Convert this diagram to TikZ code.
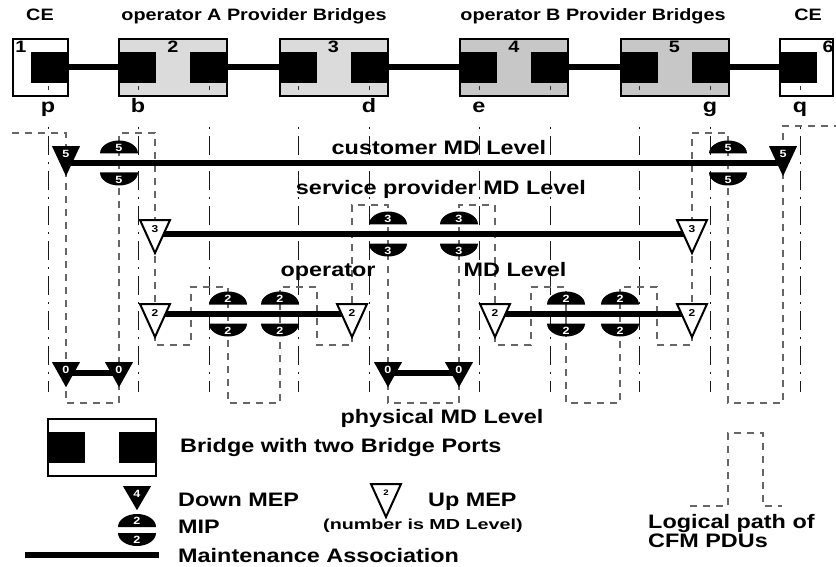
\documentclass[tikz,border=0pt]{standalone}
\usepackage{fontspec}
\setmainfont{Liberation Sans}[FakeStretch=1.2]
\newfontfamily\notefont{Liberation Sans}[FakeStretch=1.36]
\usetikzlibrary{shapes.geometric,backgrounds}

\newcommand\mipgap{9.5}

\tikzset{
  bridge/.style={draw, line width=2pt, minimum width=108pt, minimum height=57pt, inner sep=0pt, outer sep=0pt},
  port/.style={fill=black, minimum width=37pt, minimum height=31pt, inner sep=0pt, outer sep=0pt},
  link/.style={line width=6pt},
  ma/.style={line width=6.5pt},
  dmep/.style={isosceles triangle, isosceles triangle stretches, shape border rotate=270,
    minimum width=28pt, minimum height=30pt, inner sep=0pt, fill=black, text=white, anchor=north,
    font=\fontsize{10.5}{10}\selectfont\bfseries},
  umep/.style={isosceles triangle, isosceles triangle stretches, shape border rotate=270,
    minimum width=30pt, minimum height=33pt, inner sep=0pt, fill=white, draw=black, line width=2pt,
    anchor=north, font=\fontsize{10}{10}\selectfont\bfseries},
  tap/.style={black!90, line width=1pt, dash pattern=on 2pt off 7pt on 19pt off 7pt},
  cfm/.style={black!60, line width=1.6pt, dash pattern=on 7pt off 6pt},
  headlbl/.style={font=\fontsize{16.5}{18}\selectfont\bfseries, inner sep=0pt, anchor=base},
  lvllbl/.style={font=\fontsize{19.5}{20}\selectfont\bfseries, inner sep=0pt, anchor=base},
  legendlbl/.style={lvllbl, anchor=base west},
  notelbl/.style={font=\notefont\fontsize{14.5}{15}\selectfont\bfseries, inner sep=0pt, anchor=base west},
  mipnum/.style={font=\fontsize{10.5}{10}\selectfont\bfseries, text=white, inner sep=0pt},
  mip/.pic={
    \fill (-19,-\mipgap) arc[start angle=180, end angle=360, x radius=19, y radius=13] -- cycle;
    \fill (-19,\mipgap) arc[start angle=180, end angle=0, x radius=19, y radius=13] -- cycle;
    \node[mipnum] (-up) at (0,-\mipgap-6) {#1};
    \node[mipnum] (-dn) at (0,\mipgap+7) {#1};
  }
}

\begin{document}
\begin{tikzpicture}[x=1pt, y=-1pt]
  \useasboundingbox (0,0) rectangle (836,567);

  % Headings
  \node[headlbl] (ceL) at (40,21) {CE};
  \node[headlbl] (opA) at (254,21) {operator A Provider Bridges};
  \node[headlbl] (opB) at (593,21) {operator B Provider Bridges};
  \node[headlbl] (ceR) at (808,21) {CE};

  % Bridges
  \node[bridge, fill=white, minimum width=55pt] (br1) at (40.5,67.5) {};
  \node[port, anchor=east] (br1-r) at (br1.east) {};
  \node[headlbl] (n1) at (21,53) {1};
  \foreach \n/\x/\c in {2/173/black!14, 3/333.5/black!14, 4/514/black!22, 5/674.5/black!22} {
    \node[bridge, fill=\c] (br\n) at (\x,67.5) {};
    \node[port, anchor=west] (br\n-l) at (br\n.west) {};
    \node[port, anchor=east] (br\n-r) at (br\n.east) {};
    \node[headlbl] (n\n) at (\x,53) {\n};
  }
  \node[bridge, fill=white, minimum width=53pt] (br6) at (806.5,67.5) {};
  \node[port, anchor=west] (br6-l) at (br6.west) {};
  \node[headlbl] (n6) at (828,53) {6};

  % Links
  \draw[link] (br1-r) -- (br2-l);
  \draw[link] (br2-r) -- (br3-l);
  \draw[link] (br3-r) -- (br4-l);
  \draw[link] (br4-r) -- (br5-l);
  \draw[link] (br5-r) -- (br6-l);

  % Port ticks and names
  \foreach \x in {48,138,209,298,369,479,550,639,710,800}
    \draw[line width=1pt, black!80] (\x,86) -- (\x,90);
  \foreach \x/\t in {48/p,138/b,369/d,479/e,710/g,800/q}
    \node[lvllbl] (lb\t) at (\x,113) {\t};

  % Level names
  \node[lvllbl] (lvl5) at (439,155) {customer MD Level};
  \node[lvllbl] (lvl3) at (441,195) {service provider MD Level};
  \node[lvllbl] (lvl2a) at (328,276) {operator};
  \node[lvllbl] (lvl2b) at (515,276) {MD Level};
  \node[lvllbl] (lvl0) at (442,423) {physical MD Level};

  % MEPs
  \node[dmep] (m5p) at (66,146) {5};
  \node[dmep] (m5q) at (783,146) {5};
  \node[umep] (m3b) at (155,219) {3};
  \node[umep] (m3g) at (692,219) {3};
  \foreach \n/\x in {b/155,d/352,e/495,g/692}
    \node[umep] (m2\n) at (\x,303) {2};
  \foreach \n/\x in {p/66,b/119,d/388,e/459}
    \node[dmep, minimum height=25pt] (m0\n) at (\x,362) {0};

  % MIPs
  \pic (mip5b) at (119,163) {mip=5};
  \pic (mip5g) at (728,163) {mip=5};
  \pic (mip3d) at (388,234) {mip=3};
  \pic (mip3e) at (459,234) {mip=3};
  \foreach \x in {228,280,566,620}
    \pic (mip2-\x) at (\x,314) {mip=2};

  \begin{scope}[on background layer]
    % Port taps
    \foreach \x in {48,138,209,298,369,479,550,639,710,800}
      \draw[tap] (\x,127) -- (\x,392);
    % Logical path of CFM PDUs
    \draw[cfm] (12,133) -- (66,133) -- (66,403) -- (119,403) -- (119,133) -- (155,133)
      -- (155,345) -- (191,345) -- (191,287) -- (228,287) -- (228,403) -- (280,403)
      -- (280,287) -- (317,287) -- (317,345) -- (352,345) -- (352,205) -- (388,205)
      -- (388,403) -- (459,403) -- (459,205) -- (495,205) -- (495,345) -- (531,345)
      -- (531,287) -- (566,287) -- (566,403) -- (620,403) -- (620,287) -- (657,287)
      -- (657,345) -- (692,345) -- (692,133) -- (728,133) -- (728,403) -- (783,403)
      -- (783,126) -- (836,126);
    % Maintenance associations
    \draw[ma] ([yshift=-17pt]m5p.north) -- ([yshift=-17pt]m5q.north);
    \draw[ma] ([yshift=-15pt]m3b.north) -- ([yshift=-15pt]m3g.north);
    \draw[ma] ([yshift=-11pt]m2b.north) -- ([yshift=-11pt]m2d.north);
    \draw[ma] ([yshift=-11pt]m2e.north) -- ([yshift=-11pt]m2g.north);
    \draw[ma] ([yshift=-11pt]m0p.north) -- ([yshift=-11pt]m0b.north);
    \draw[ma] ([yshift=-11pt]m0d.north) -- ([yshift=-11pt]m0e.north);
  \end{scope}

  % Legend
  \node[bridge, fill=white] (lgbr) at (101.5,447) {};
  \node[port, anchor=west] (lgbr-l) at (lgbr.west) {};
  \node[port, anchor=east] (lgbr-r) at (lgbr.east) {};
  \node[legendlbl] (lgbrt) at (180,452) {Bridge with two Bridge Ports};
  \node[dmep, minimum height=24pt] (lgdown) at (137,486) {4};
  \node[legendlbl] (lgdownt) at (178,506) {Down MEP};
  \node[umep, font=\fontsize{8}{8}\selectfont\bfseries] (lgup) at (386,483) {2};
  \node[legendlbl] (lgupt) at (428,506) {Up MEP};
  \node[notelbl] (lgnote) at (323,529) {(number is MD Level)};
  \begin{scope}
    \renewcommand\mipgap{3}
    \pic (lgmip) at (137,530) {mip=2};
  \end{scope}
  \node[legendlbl] (lgmipt) at (178,533) {MIP};
  \coordinate (lgma-a) at (25,555);
  \coordinate (lgma-b) at (159,555);
  \draw[ma] (lgma-a) -- (lgma-b);
  \node[legendlbl] (lgmat) at (178,562) {Maintenance Association};
  \draw[cfm] (690,506) -- (728,506) -- (728,433) -- (763,433) -- (763,506) -- (782,506);
  \node[legendlbl] (lgpath1) at (648,528) {Logical path of};
  \node[legendlbl] (lgpath2) at (648,547) {CFM PDUs};
\end{tikzpicture}
\end{document}
